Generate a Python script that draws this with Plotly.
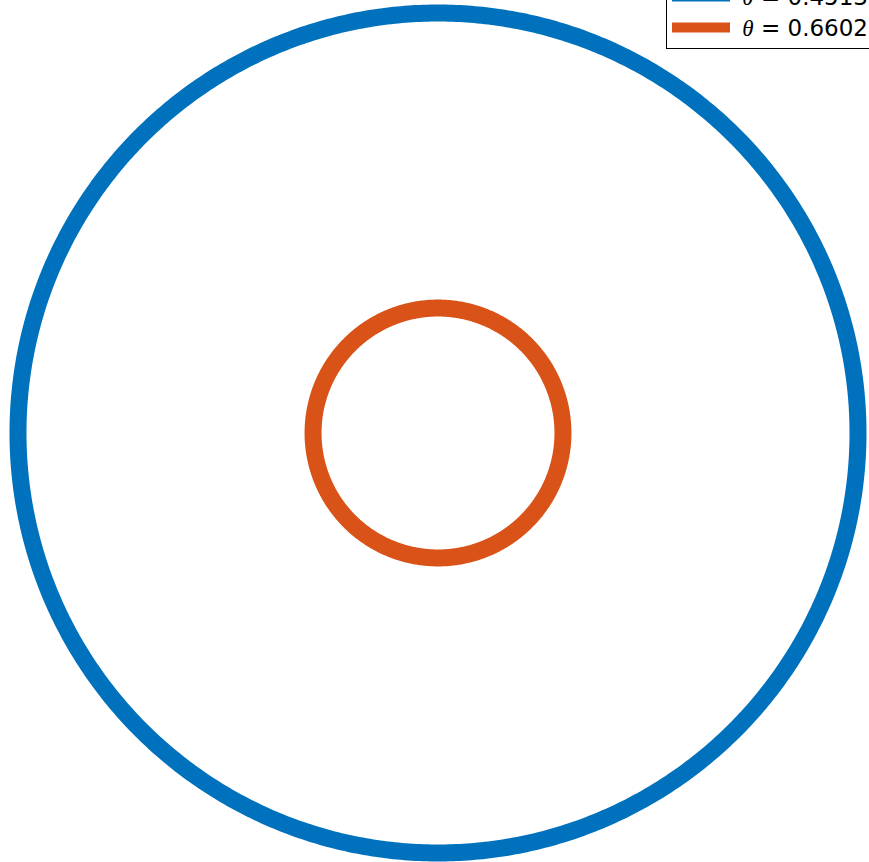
import numpy as np
import plotly.graph_objects as go

# data
series_names = ["0.4513", "0.6602"]
radii = [1.0, 0.2975]
colors = ["#0072BD", "#D95319"]
n_pts = 721

W, H = 869, 862
fig = go.Figure()
t = np.linspace(0, 2 * np.pi, n_pts)
for name, r, c in zip(series_names, radii, colors):
    fig.add_trace(go.Scatter(
        x=r * np.cos(t), y=r * np.sin(t), mode="lines",
        line=dict(color=c, width=17, simplify=False),
        name='<span style="font-size:23px">\u00a0'
             '<span style="font-family:Liberation Serif"><i>θ</i></span> = '
             + name + '\u00a0\u00a0\u00a0</span>',
    ))

px_per_unit = 420.0
cx, cy = 438.0, 433.0
fig.update_layout(
    width=W, height=H,
    margin=dict(l=0, r=0, t=0, b=0, autoexpand=False),
    paper_bgcolor="white", plot_bgcolor="white",
    xaxis=dict(range=[-cx / px_per_unit, (W - cx) / px_per_unit], visible=False),
    yaxis=dict(range=[-(H - cy) / px_per_unit, cy / px_per_unit], visible=False),
    showlegend=True,
    legend=dict(
        x=666 / W, xanchor="left",
        y=(H - 49) / H, yanchor="bottom",
        bgcolor="white", bordercolor="black", borderwidth=1,
        font=dict(family="DejaVu Sans", size=21.5, color="black"),
        itemwidth=58,
        tracegroupgap=0,
    ),
)
fig.write_html("out.html")
